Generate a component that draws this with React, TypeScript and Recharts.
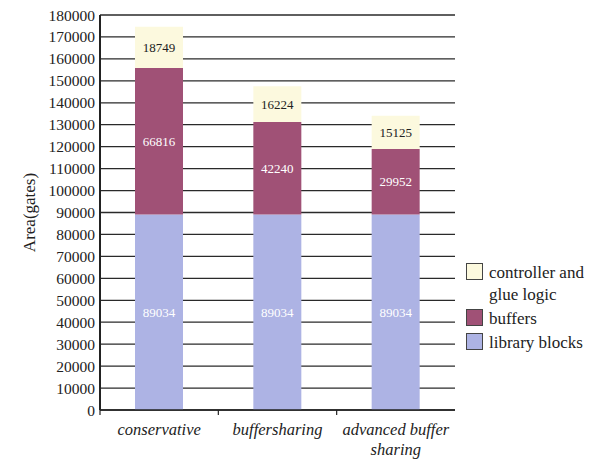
import { Bar, BarChart, CartesianGrid, LabelList, Legend, XAxis, YAxis } from "recharts";

const categories = ["conservative", "buffersharing", "advanced buffer sharing"];
const libraryBlocks = [89034, 89034, 89034];
const buffers = [66816, 42240, 29952];
const controllerGlue = [18749, 16224, 15125];

const yTicks = [
  0, 10000, 20000, 30000, 40000, 50000, 60000, 70000, 80000, 90000, 100000, 110000, 120000,
  130000, 140000, 150000, 160000, 170000, 180000,
];

// wrapped lines for the category labels
const categoryLines: Record<string, string[]> = {
  conservative: ["conservative"],
  buffersharing: ["buffersharing"],
  "advanced buffer sharing": ["advanced buffer", "sharing"],
};

const legendItems = [
  { lines: ["controller and", "glue logic"], color: "#fcf9de" },
  { lines: ["buffers"], color: "#a05176" },
  { lines: ["library blocks"], color: "#adb3e4" },
];

const data = categories.map((name, i) => ({
  name,
  library: libraryBlocks[i],
  buffers: buffers[i],
  controller: controllerGlue[i],
}));

const FONT = "Liberation Serif, Tinos, DejaVu Serif, serif";
const WIDTH = 597;
const HEIGHT = 459;
const MARGIN = { top: 15, right: 142, bottom: 0, left: 0 };
const Y_WIDTH = 100;
const BAND = (WIDTH - MARGIN.right - Y_WIDTH) / categories.length;

function CategoryTick(props: any) {
  const { x, y, payload } = props;
  const lines = categoryLines[payload.value] ?? [payload.value];
  return (
    <g>
      <line x1={x - BAND / 2} x2={x - BAND / 2} y1={y} y2={y + 5} stroke="#222" strokeWidth={1.2} />
      {lines.map((l, i) => (
        <text
          key={l}
          x={x}
          y={y + 25 + i * 20}
          textAnchor="middle"
          fontFamily={FONT}
          fontStyle="italic"
          fontSize={16.5}
          fill="#222"
        >
          {l}
        </text>
      ))}
    </g>
  );
}

function AxisTitle(props: any) {
  const { viewBox } = props;
  const cx = viewBox.x + 29;
  const cy = viewBox.y + viewBox.height / 2;
  return (
    <text
      x={cx}
      y={cy}
      transform={`rotate(-90 ${cx} ${cy})`}
      textAnchor="middle"
      dominantBaseline="central"
      fontFamily={FONT}
      fontSize={17}
      fill="#222"
    >
      Area(gates)
    </text>
  );
}

function LegendBox() {
  return (
    <div style={{ fontFamily: FONT, fontSize: 17, color: "#222", lineHeight: "22px" }}>
      {legendItems.map((item) => (
        <div key={item.lines[0]} style={{ display: "flex", alignItems: "flex-start", marginBottom: 2 }}>
          <span
            style={{
              width: 15,
              height: 15,
              marginTop: 1,
              marginRight: 6,
              background: item.color,
              border: "1px solid #444",
              flex: "none",
            }}
          />
          <span>
            {item.lines.map((l) => (
              <div key={l}>{l}</div>
            ))}
          </span>
        </div>
      ))}
    </div>
  );
}

export default function App() {
  return (
    <div style={{ position: "absolute", left: 0, top: 0, width: WIDTH, height: HEIGHT, background: "#fff" }}>
      <BarChart width={WIDTH} height={HEIGHT} data={data} margin={MARGIN} barSize={48}>
        <CartesianGrid vertical={false} stroke="#2a2a2a" strokeWidth={1.3} />
        <XAxis
          dataKey="name"
          height={49}
          interval={0}
          tickSize={0}
          tickMargin={0}
          tickLine={false}
          axisLine={{ stroke: "#222", strokeWidth: 1.5 }}
          tick={<CategoryTick />}
        />
        <YAxis
          width={Y_WIDTH}
          domain={[0, 180000]}
          ticks={yTicks}
          interval={0}
          tickSize={0}
          tickMargin={5}
          tickLine={false}
          axisLine={{ stroke: "#222", strokeWidth: 2 }}
          tick={{ fill: "#222", fontSize: 15.5, fontFamily: FONT }}
          label={<AxisTitle />}
        />
        <Legend
          layout="vertical"
          align="center"
          verticalAlign="middle"
          content={<LegendBox />}
          wrapperStyle={{ left: 466, top: 262, width: 131 }}
        />
        <Bar dataKey="library" stackId="a" fill="#adb3e4" isAnimationActive={false}>
          <LabelList dataKey="library" position="center" fill="#fff" fontSize={13} fontFamily={FONT} />
        </Bar>
        <Bar dataKey="buffers" stackId="a" fill="#a05176" isAnimationActive={false}>
          <LabelList dataKey="buffers" position="center" fill="#fff" fontSize={13} fontFamily={FONT} />
        </Bar>
        <Bar dataKey="controller" stackId="a" fill="#fcf9de" isAnimationActive={false}>
          <LabelList dataKey="controller" position="center" fill="#222" fontSize={13} fontFamily={FONT} />
        </Bar>
      </BarChart>
    </div>
  );
}
